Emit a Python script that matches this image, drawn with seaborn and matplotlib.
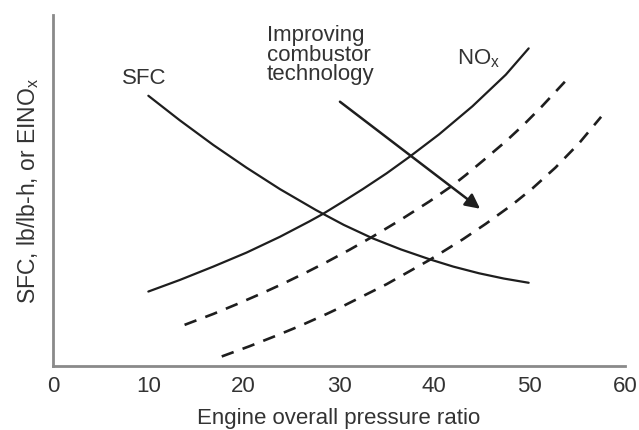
import pandas as pd
import matplotlib
matplotlib.use("Agg")
import matplotlib.pyplot as plt
import seaborn as sns

# -------------------------------
# DATA
# -------------------------------
# y values are on an arbitrary 0-100 scale (no y ticks in the original)

sfc_x = [10, 13.3, 16.8, 20.3, 23.8, 27.6, 30.5, 33.5, 36.5, 39.5, 42.0, 44.7, 47.3, 49.9]
sfc_y = [77.0, 70.0, 63.0, 56.5, 50.4, 44.4, 40.2, 36.4, 33.2, 30.4, 28.3, 26.4, 24.9, 23.7]

nox_x = [10, 13.3, 16.8, 20.3, 23.8, 26.9, 28.3, 30.4, 32.5, 35.0, 37.4, 40.5, 44.0, 47.5, 49.9]
nox_y = [21.2, 24.5, 28.3, 32.3, 36.8, 41.2, 43.3, 46.8, 50.4, 54.9, 59.6, 66.0, 74.0, 83.0, 90.5]

nox_mid_x = [13.8, 16.8, 19.2, 22.0, 24.1, 26.6, 28.7, 31.1, 33.5, 36.5, 39.5, 41.9, 43.3, 45.2, 47.5, 49.4, 51.3, 53.8]
nox_mid_y = [11.7, 14.8, 17.5, 20.8, 23.4, 26.7, 29.6, 33.1, 36.8, 41.7, 46.9, 51.4, 54.4, 58.7, 64.0, 68.8, 74.0, 81.3]

nox_low_x = [17.7, 20.6, 23.4, 25.9, 28.7, 30.1, 35.0, 39.5, 43.0, 45.4, 48.2, 50.3, 52.7, 55.2, 57.5]
nox_low_y = [2.7, 5.6, 8.6, 11.4, 14.8, 16.6, 23.3, 30.2, 36.1, 40.5, 46.0, 50.6, 56.5, 63.5, 71.0]

x_ticks = [0, 10, 20, 30, 40, 50, 60]

# -------------------------------
# STYLE
# -------------------------------
sns.set_style("white")
plt.rcParams["font.family"] = ["Liberation Sans", "DejaVu Sans"]

line_color = "#1e1e1e"
axis_color = "#8a8a8a"
text_color = "#333333"

fig = plt.figure(figsize=(6.39, 4.30), dpi=100)
ax = fig.add_axes([0.083, 0.149, 0.895, 0.816])

# -------------------------------
# CURVES
# -------------------------------
sns.lineplot(x=sfc_x, y=sfc_y, ax=ax, color=line_color, linewidth=1.6)
sns.lineplot(x=nox_x, y=nox_y, ax=ax, color=line_color, linewidth=1.6)
sns.lineplot(x=nox_mid_x, y=nox_mid_y, ax=ax, color=line_color,
             linewidth=1.9, linestyle=(0, (4.8, 3.6)))
sns.lineplot(x=nox_low_x, y=nox_low_y, ax=ax, color=line_color,
             linewidth=1.9, linestyle=(0, (4.8, 3.6)))

# -------------------------------
# LABELS AND ARROW
# -------------------------------
ax.text(9.6, 81.8, "SFC", fontsize=16, color=text_color,
        ha="center", va="center")
ax.text(42.4, 87.7, "NO$_\\mathregular{x}$", fontsize=16, color=text_color,
        ha="left", va="center")
ax.text(22.4, 97.2, "Improving\ncombustor\ntechnology", fontsize=16,
        color=text_color, ha="left", va="top", linespacing=0.92)

ax.annotate("", xy=(44.8, 44.8), xytext=(30.1, 75.3),
            arrowprops=dict(arrowstyle="-|>", color=line_color, lw=1.8,
                            mutation_scale=22, shrinkA=0, shrinkB=0))

# -------------------------------
# AXES
# -------------------------------
ax.set_xlim(0, 60)
ax.set_ylim(0, 100)
ax.set_xticks(x_ticks)
ax.set_yticks([])
ax.tick_params(axis="x", direction="inout", length=4, width=1.2,
               color=axis_color, labelsize=16, labelcolor=text_color, pad=5)

for side in ["top", "right"]:
    ax.spines[side].set_visible(False)
for side in ["left", "bottom"]:
    ax.spines[side].set_color(axis_color)
    ax.spines[side].set_linewidth(2.0)

ax.set_xlabel("Engine overall pressure ratio", fontsize=16,
              color=text_color, labelpad=8)
ax.set_ylabel("SFC, lb/lb-h, or EINO$_\\mathregular{x}$", fontsize=16.5,
              color=text_color, labelpad=9)

fig.savefig("out.png", dpi=100)
